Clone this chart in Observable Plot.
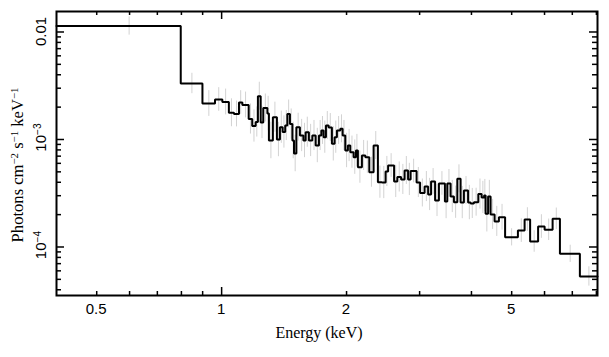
<!DOCTYPE html>
<html><head><meta charset="utf-8">
<script src="https://cdn.jsdelivr.net/npm/d3@7"></script>
<script src="https://cdn.jsdelivr.net/npm/@observablehq/plot@0.6"></script>
<style>html,body{margin:0;padding:0;background:#fff;}</style>
</head><body><div id="chart"></div>
<script>
// Bin edges (keV), 98 edges -> 97 bins
const binEdges = [
 0.40, 0.797, 0.899, 0.964, 1.004, 1.041, 1.071, 1.101, 1.122, 1.162,
 1.185, 1.208, 1.223, 1.242, 1.260, 1.289, 1.300, 1.329, 1.359, 1.382,
 1.403, 1.423, 1.440, 1.461, 1.481, 1.494, 1.514, 1.544, 1.574, 1.594,
 1.623, 1.654, 1.685, 1.716, 1.739, 1.761, 1.784, 1.811, 1.844, 1.872,
 1.896, 1.932, 1.957, 1.986, 2.015, 2.042, 2.080, 2.107, 2.130, 2.178,
 2.220, 2.269, 2.324, 2.380, 2.434, 2.484, 2.519, 2.604, 2.651, 2.707,
 2.760, 2.814, 2.854, 2.950, 3.008, 3.084, 3.145, 3.197, 3.269, 3.339,
 3.452, 3.498, 3.563, 3.629, 3.698, 3.766, 3.836, 3.926, 3.981, 4.055,
 4.155, 4.232, 4.291, 4.326, 4.387, 4.448, 4.548, 4.658, 4.821, 5.176,
 5.372, 5.539, 5.790, 6.003, 6.275, 6.535, 7.30, 8.05
];
// Photon flux per bin (photons cm^-2 s^-1 keV^-1)
const flux = [
 1.137e-2, 3.319e-3, 2.162e-3, 2.356e-3, 2.233e-3, 1.772e-3, 1.727e-3, 2.209e-3, 2.094e-3, 1.551e-3,
 1.335e-3, 1.455e-3, 2.528e-3, 1.439e-3, 1.964e-3, 1.745e-3, 9.79e-4, 1.612e-3, 1.000e-3, 1.301e-3,
 1.174e-3, 1.349e-3, 1.727e-3, 1.394e-3, 9.79e-4, 7.41e-4, 1.301e-3, 1.089e-3, 9.79e-4, 1.169e-3,
 9.79e-4, 1.089e-3, 8.79e-4, 1.089e-3, 1.213e-3, 1.051e-3, 1.349e-3, 1.293e-3, 9.12e-4, 1.051e-3,
 1.213e-3, 1.257e-3, 1.089e-3, 7.90e-4, 8.79e-4, 7.62e-4, 6.85e-4, 7.90e-4, 5.53e-4, 7.10e-4,
 6.85e-4, 4.96e-4, 8.79e-4, 4.01e-4, 3.98e-4, 5.04e-4, 5.73e-4, 4.07e-4, 4.48e-4, 4.25e-4,
 5.15e-4, 4.25e-4, 5.09e-4, 3.98e-4, 3.18e-4, 3.65e-4, 3.08e-4, 4.07e-4, 2.71e-4, 3.90e-4,
 2.65e-4, 3.90e-4, 2.95e-4, 2.61e-4, 4.31e-4, 2.59e-4, 3.35e-4, 2.59e-4, 2.54e-4, 2.61e-4,
 3.11e-4, 2.89e-4, 3.01e-4, 2.04e-4, 2.95e-4, 2.01e-4, 1.73e-4, 1.89e-4, 1.23e-4, 1.42e-4,
 1.80e-4, 1.125e-4, 1.55e-4, 1.445e-4, 1.83e-4, 8.64e-5, 5.32e-5
];
// Half-length of error bars (dex)
const errDex = [
 0.085, 0.095,
 0.12, 0.11, 0.12, 0.13, 0.12, 0.11, 0.12, 0.14, 0.15, 0.14,
 0.13, 0.15, 0.13, 0.16, 0.17, 0.14, 0.16, 0.15, 0.15, 0.14, 0.13, 0.14, 0.17, 0.17, 0.13, 0.15, 0.16, 0.14,
 0.15, 0.14, 0.16, 0.14, 0.13, 0.15, 0.13, 0.13, 0.16, 0.15, 0.13, 0.13, 0.14, 0.16, 0.15, 0.15, 0.16, 0.15, 0.15, 0.14,
 0.15, 0.14, 0.13, 0.15, 0.15, 0.14, 0.11, 0.15, 0.14, 0.14, 0.13, 0.15, 0.11, 0.14, 0.13, 0.14, 0.15, 0.12, 0.15, 0.11,
 0.16, 0.13, 0.15, 0.15, 0.13, 0.15, 0.13, 0.16, 0.14, 0.13, 0.14, 0.15, 0.15, 0.17, 0.15, 0.14, 0.14, 0.12,
 0.08, 0.11, 0.11, 0.10, 0.11, 0.10, 0.10, 0.08, 0.09
];
const xTickLabels = [0.5, 1, 2, 5];
const xMajorTicks = [1];
const xMinorTicks = [0.5, 0.6, 0.7, 0.8, 0.9, 2, 3, 4, 5, 6, 7, 8];
const yTickValues = [1e-2, 1e-3, 1e-4];
const yTickBase = ["0.01", "10", "10"];
const yTickExp = ["", "\u22123", "\u22124"];
const yMinorTicks = [4e-5,5e-5,6e-5,7e-5,8e-5,9e-5,2e-4,3e-4,4e-4,5e-4,6e-4,7e-4,8e-4,9e-4,2e-3,3e-3,4e-3,5e-3,6e-3,7e-3,8e-3,9e-3];

const W = 609, H = 357, mL = 56, mR = 12, mT = 11, mB = 62;
const pw = W - mL - mR, ph = H - mT - mB;
const sans = "'Liberation Sans', Arial, Helvetica, sans-serif";
const serif = "'Liberation Serif', 'Times New Roman', Times, serif";

const n = Math.min(flux.length, binEdges.length - 1);
const steps = [];
const bars = [];
for (let i = 0; i < n; i++) {
  steps.push({x: binEdges[i], y: flux[i]});
  const e = errDex[i] ?? 0.13;
  bars.push({x: (binEdges[i] + binEdges[i+1]) / 2, lo: flux[i] / Math.pow(10, e), hi: flux[i] * Math.pow(10, e)});
}
steps.push({x: binEdges[n], y: flux[n-1]});

const tickStyle = {stroke: "black", strokeWidth: 1.5};
const chart = Plot.plot({
  width: W, height: H,
  marginLeft: mL, marginRight: mR, marginTop: mT, marginBottom: mB,
  style: {background: "white", fontFamily: sans},
  x: {type: "log", domain: [0.4, 8.05], axis: null},
  y: {type: "log", domain: [3.538e-5, 0.01551], axis: null},
  marks: [
    Plot.ruleX(bars, {x: "x", y1: "lo", y2: "hi", stroke: "#d2d2d2", strokeWidth: 1}),
    Plot.line(steps, {x: "x", y: "y", curve: "step-after", stroke: "black", strokeWidth: 2, strokeLinejoin: "miter"}),
    // bottom and top ticks (inward)
    Plot.tickX(xMinorTicks, {x: d => d, insetTop: ph - 4, ...tickStyle}),
    Plot.tickX(xMinorTicks, {x: d => d, insetBottom: ph - 4, ...tickStyle}),
    Plot.tickX(xMajorTicks, {x: d => d, insetTop: ph - 8, ...tickStyle}),
    Plot.tickX(xMajorTicks, {x: d => d, insetBottom: ph - 8, ...tickStyle}),
    // left and right ticks (inward)
    Plot.tickY(yMinorTicks, {y: d => d, insetRight: pw - 5, ...tickStyle}),
    Plot.tickY(yMinorTicks, {y: d => d, insetLeft: pw - 5, ...tickStyle}),
    Plot.tickY(yTickValues, {y: d => d, insetRight: pw - 8, ...tickStyle}),
    Plot.tickY(yTickValues, {y: d => d, insetLeft: pw - 8, ...tickStyle}),
    Plot.frame({stroke: "black", strokeWidth: 2})
  ]
});
document.getElementById("chart").appendChild(chart);

const svg = d3.select(chart);
const sx = chart.scale("x"), sy = chart.scale("y");

// x tick labels
const gx = svg.append("g").attr("font-family", sans).attr("font-size", 15).attr("fill", "black").attr("text-anchor", "middle");
xTickLabels.forEach(v => gx.append("text").attr("x", sx.apply(v)).attr("y", 313.5).text(String(v)));

// y tick labels (rotated)
const gy = svg.append("g").attr("font-family", sans).attr("font-size", 15).attr("fill", "black").attr("text-anchor", "middle");
yTickValues.forEach((v, i) => {
  const t = gy.append("text").attr("transform", `translate(45.5,${sy.apply(v) - (yTickExp[i] ? 1.5 : 0)}) rotate(-90)`);
  t.append("tspan").text(yTickBase[i]);
  if (yTickExp[i]) t.append("tspan").attr("dy", "-0.45em").attr("font-size", "0.68em").text(yTickExp[i]);
});

// axis titles
svg.append("text").attr("font-family", serif).attr("font-size", 16).attr("text-anchor", "middle")
  .attr("x", 319).attr("y", 337.5).text("Energy (keV)");

const yt = svg.append("text").attr("font-family", serif).attr("font-size", 16.6).attr("text-anchor", "middle")
  .attr("transform", "translate(23,165) rotate(-90)");
const parts = [["Photons cm", ""], ["\u22122", "sup"], [" s", ""], ["\u22121", "sup"], [" keV", ""], ["\u22121", "sup"]];
let up = false;
parts.forEach(([txt, kind]) => {
  const s = yt.append("tspan").text(txt);
  if (kind === "sup") { s.attr("dy", "-0.42em").attr("font-size", "0.65em"); up = true; }
  else if (up) { s.attr("dy", "0.27em"); up = false; }
});
</script>
</body></html>
